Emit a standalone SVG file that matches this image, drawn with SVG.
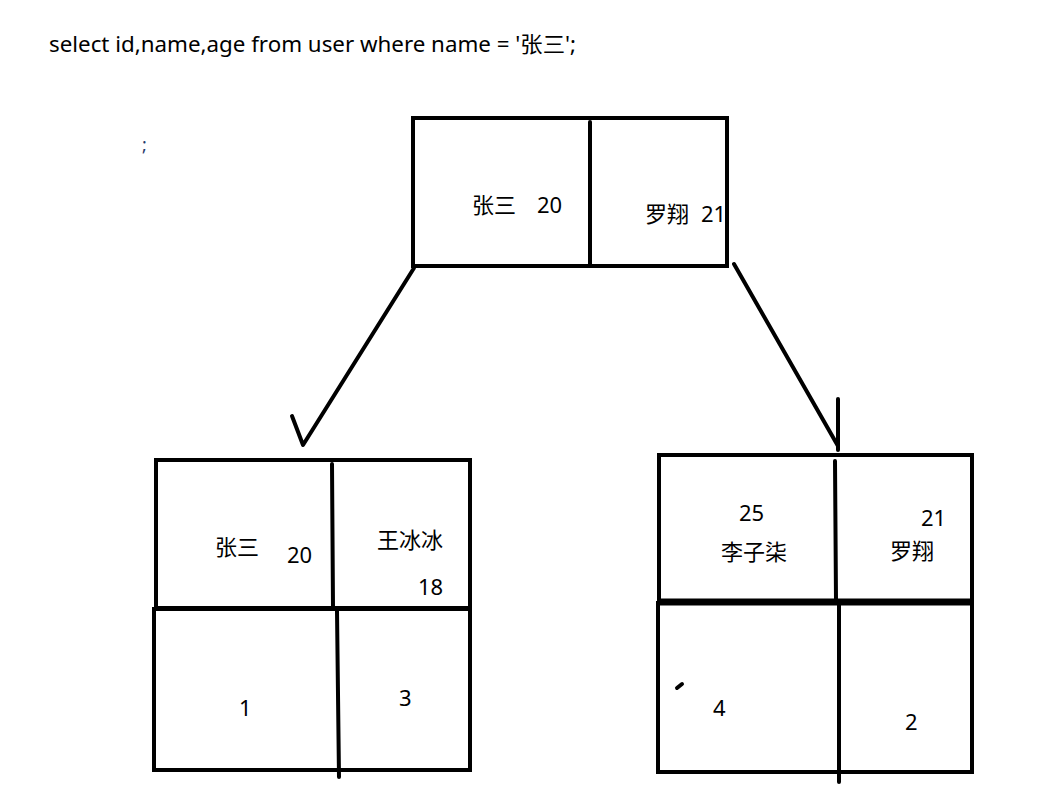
<svg xmlns="http://www.w3.org/2000/svg" width="1052" height="806" viewBox="0 0 1052 806">
<style>
.b{fill:none;stroke:#000;stroke-width:4;stroke-linecap:round}
.t{font-family:"Noto Sans","Noto Sans CJK SC",sans-serif;font-size:22px;fill:#000}
.c{stroke:#000;stroke-width:4;fill:none;stroke-linecap:round;stroke-linejoin:round}
</style>
<rect width="1052" height="806" fill="#fff"/>
<text class="t" x="49" y="52" style="font-size:21.5px" textLength="527" lengthAdjust="spacingAndGlyphs">select id,name,age from user where name = '张三';</text>
<text class="t" x="142" y="151" style="fill:#1f3a6b;font-size:18px">;</text>
<g id="root">
<rect class="b" x="413" y="118" width="314" height="148"/>
<line class="b" x1="590" y1="122" x2="590" y2="266"/>
<text class="t" x="472" y="213">张三</text>
<text class="t" x="537" y="213">20</text>
<text class="t" x="645" y="222">罗翔</text>
<text class="t" x="701" y="222">21</text>
</g>
<g id="left">
<rect class="b" x="156" y="460" width="314" height="148"/>
<rect class="b" x="154" y="609" width="316" height="161"/>
<line class="b" x1="332" y1="464" x2="333" y2="607"/>
<line class="b" x1="337" y1="611" x2="339" y2="777"/>
<text class="t" x="215" y="555">张三</text>
<text class="t" x="287" y="563">20</text>
<text class="t" x="377" y="548">王冰冰</text>
<text class="t" x="418" y="595">18</text>
<text class="t" x="239" y="716">1</text>
<text class="t" x="399" y="706">3</text>
</g>
<g id="right">
<rect class="b" x="659" y="455" width="313" height="146"/>
<rect class="b" x="658" y="603" width="314" height="169"/>
<line x1="658" y1="602" x2="972" y2="602" stroke="#000" stroke-width="7"/>
<line class="b" x1="835" y1="461" x2="836" y2="600"/>
<line class="b" x1="839" y1="604" x2="839" y2="782"/>
<text class="t" x="739" y="521">25</text>
<text class="t" x="721" y="560">李子柒</text>
<text class="t" x="921" y="526">21</text>
<text class="t" x="890" y="559">罗翔</text>
<text class="t" x="713" y="716">4</text>
<text class="t" x="905" y="730">2</text>
<line class="b" x1="677" y1="688" x2="682" y2="684"/>
</g>
<g id="connectors">
<polyline class="c" points="414,268 303,445 292,416"/>
<line class="c" x1="734" y1="264" x2="838" y2="446"/>
<line class="c" x1="838" y1="399" x2="838" y2="450"/>
</g>
</svg>
